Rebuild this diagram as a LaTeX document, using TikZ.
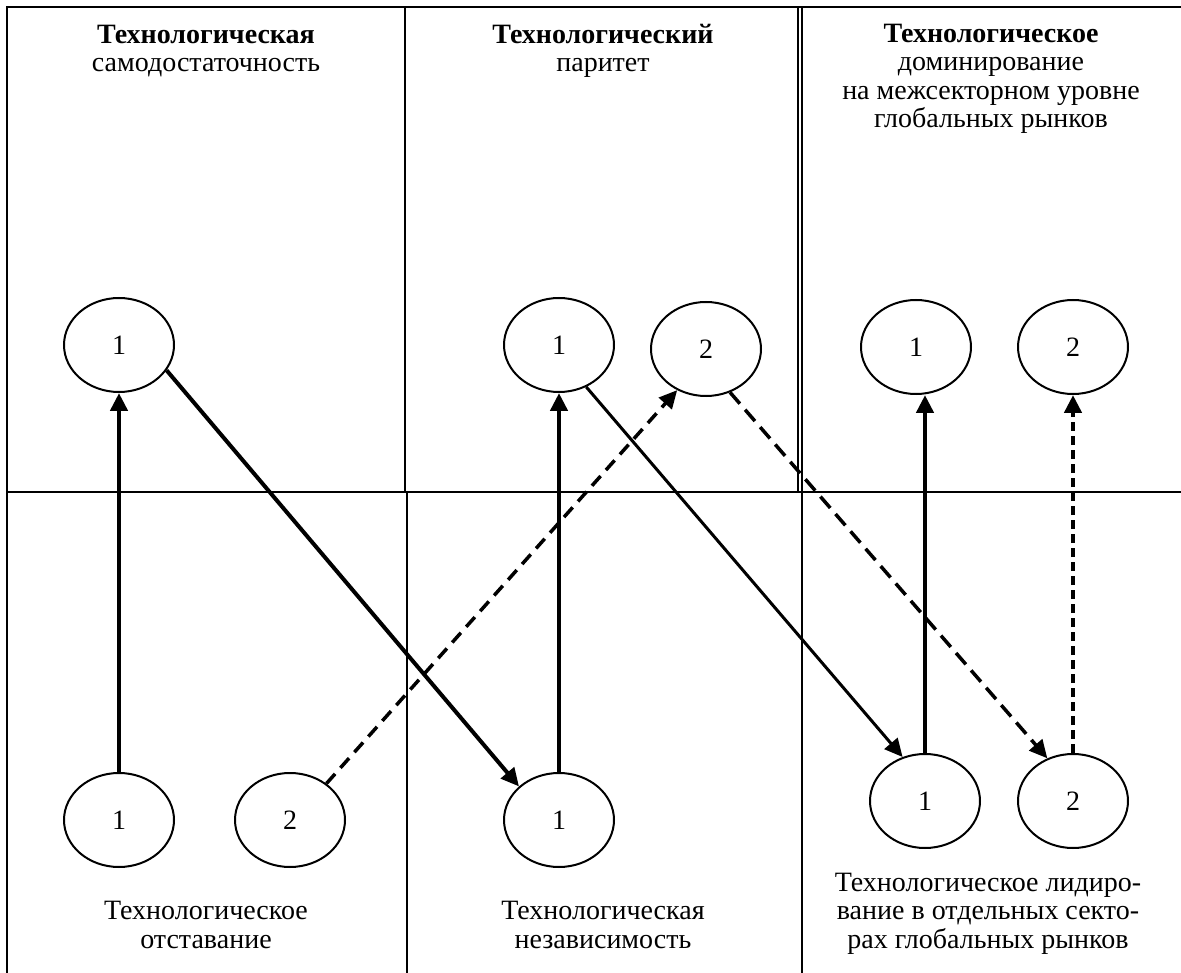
\documentclass[tikz,border=0pt]{standalone}
\usepackage{fontspec}
\setmainfont{Liberation Serif}
\usetikzlibrary{shapes.geometric,arrows.meta}

\begin{document}
\begin{tikzpicture}[x=1pt, y=-1pt, >={Triangle[length=18pt,width=17pt]}]
	\tikzstyle{every node} = [font=\fontsize{28}{28.5}\selectfont]
	\tikzstyle{ring} = [ellipse, draw, line width=2pt, minimum width=110pt, minimum height=94pt, inner sep=0pt]
	\tikzstyle{caption} = [align=center, anchor=base, inner sep=0pt]
	\tikzstyle{grid} = [line width=1.8pt]
	\useasboundingbox (0,0) rectangle (1181,973);
	% frame
	\draw [grid] (7,973) -- (7,7) -- (1181,7);
	\draw [grid] (7,492) -- (1181,492);
	\draw [grid] (405,7) -- (405,492);
	\draw [grid] (407,492) -- (407,973);
	\draw [grid] (798,7) -- (798,492);
	\draw [grid] (802,7) -- (802,973);
	% headers (anchor on last line)
	\node [caption] (SelfHead) at (206,72) {\textbf{Технологическая}\\самодостаточность};
	\node [caption] (ParHead) at (603,72) {\textbf{Технологический}\\паритет};
	\node [caption] (DomHead) at (991,128) {\textbf{Технологическое}\\доминирование\\на межсекторном уровне\\глобальных рынков};
	% circles
	\node [ring] (SelfOne) at (119,345) {1};
	\node [ring] (ParOne) at (559,345) {1};
	\node [ring] (ParTwo) at (706,349) {2};
	\node [ring] (DomOne) at (916,347) {1};
	\node [ring] (DomTwo) at (1073,347) {2};
	\node [ring] (LagOne) at (119,820) {1};
	\node [ring] (LagTwo) at (290,820) {2};
	\node [ring] (IndOne) at (559,820) {1};
	\node [ring] (LeadOne) at (925,801) {1};
	\node [ring] (LeadTwo) at (1073,801) {2};
	% footers
	\node [caption] (LagFoot) at (206,948) {Технологическое\\отставание};
	\node [caption] (IndFoot) at (603,948) {Технологическая\\независимость};
	\node [caption] (LeadFoot) at (988,948) {Технологическое лидиро-\\вание в отдельных секто-\\рах глобальных рынков};
	% links
	\draw [->, line width=4.5pt] (LagOne.north) -- (SelfOne.south);
	\draw [->, line width=4pt] (SelfOne.-28) -- (IndOne.140);
	\draw [->, line width=3.5pt, dash pattern=on 13pt off 8pt] (LagTwo.45) -- (ParTwo.235);
	\draw [->, line width=4.5pt] (IndOne.north) -- (ParOne.south);
	\draw [->, line width=3pt] (ParOne.-57) -- (LeadOne.117);
	\draw [->, line width=3.5pt, dash pattern=on 15pt off 8pt] (ParTwo.-61) -- (LeadTwo.121);
	\draw [->, line width=4.5pt] (LeadOne.north) -- (LeadOne.north |- DomOne.south);
	\draw [->, line width=4.5pt, dash pattern=on 9pt off 5pt] (LeadTwo.north) -- (DomTwo.south);
\end{tikzpicture}
\end{document}
